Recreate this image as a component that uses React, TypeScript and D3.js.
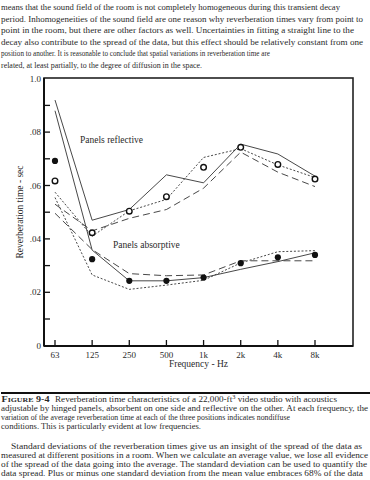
import React from 'react';
import * as d3 from 'd3';

// frequency bands (x categories)
const freqs = ['63', '125', '250', '500', '1k', '2k', '4k', '8k'];
const yTickLabels = ['0', '.02', '.04', '.06', '.08', '1.0'];

// panels reflective - three positions + average
const reflSolid = [0.092, 0.047, 0.051, 0.064, 0.061, 0.0755, 0.0718, 0.0635];
const reflLongDash = [0.053, 0.043, 0.0477, 0.051, 0.059, 0.0725, 0.065, 0.0596];
const reflDotted = [0.0575, 0.041, 0.0505, 0.0548, 0.0705, 0.0738, 0.0677, 0.063];
const reflAvg = [0.0617, 0.0423, 0.0504, 0.0558, 0.0668, 0.0743, 0.0679, 0.0624];

// panels absorptive - three positions + average
const absSolid = [0.088, 0.0358, 0.0243, 0.0243, 0.0255, 0.0286, 0.0315, 0.0348];
const absLongDash = [0.0496, 0.036, 0.027, 0.0262, 0.0265, 0.0318, 0.0318, 0.0318];
const absDotted = [0.0555, 0.0265, 0.0211, 0.0227, 0.0245, 0.031, 0.0352, 0.0356];
const absAvg = [0.0692, 0.0324, 0.0243, 0.0243, 0.0255, 0.0309, 0.0331, 0.034];

const topText = [
  ['means that the sound field of the room is not completely homogeneous during this transient decay', 340],
  ['period. Inhomogeneities of the sound field are one reason why reverberation times vary from point to', 363],
  ['point in the room, but there are other factors as well. Uncertainties in fitting a straight line to the', 354],
  ['decay also contribute to the spread of the data, but this effect should be relatively constant from one', 363],
  ['position to another. It is reasonable to conclude that spatial variations in reverberation time are', 270],
  ['related, at least partially, to the degree of diffusion in the space.', 202],
];

const captionText = [
  ['adjustable by hinged panels, absorbent on one side and reflective on the other. At each frequency, the', 368],
  ['variation of the average reverberation time at each of the three positions indicates nondiffuse', 290],
  ['conditions. This is particularly evident at low frequencies.', 201],
];

const bottomText = [
  ['Standard deviations of the reverberation times give us an insight of the spread of the data as', 362, 11],
  ['measured at different positions in a room. When we calculate an average value, we lose all evidence', 368, 1],
  ['of the spread of the data going into the average. The standard deviation can be used to quantify the', 367, 1],
  ['data spread. Plus or minus one standard deviation from the mean value embraces 68% of the data', 363, 1],
];

const serif = '"Liberation Serif", "Times New Roman", serif';
const ink = '#2a2a2a';

export default function App() {
  const x = d3.scalePoint<string>().domain(freqs).range([55, 315]);
  const y = d3.scaleLinear().domain([0, 0.1]).range([345.7, 78.7]);
  const line = d3.line<number>().x((_, i) => x(freqs[i]) as number).y((d) => y(d));

  const frame = { left: 44, right: 353, top: 78, bottom: 346 };

  const series = [
    { d: reflSolid, dash: undefined },
    { d: reflLongDash, dash: '7,4' },
    { d: reflDotted, dash: '2,1.8' },
    { d: absSolid, dash: undefined },
    { d: absLongDash, dash: '7,4' },
    { d: absDotted, dash: '2,1.8' },
  ];

  return (
    <svg width={370} height={480} style={{ position: 'absolute', left: 0, top: 0, background: '#fff' }}
      fontFamily={serif} fill={ink}>
      {topText.map(([t, w], i) => (
        <text key={i} x={1} y={10 + i * 11.5} fontSize={8.6} textLength={(w as number) - 1}
          lengthAdjust="spacingAndGlyphs">{t}</text>
      ))}

      {/* plot frame */}
      <rect x={frame.left} y={frame.top} width={frame.right - frame.left} height={frame.bottom - frame.top}
        fill="none" stroke="#222" strokeWidth={1.6} />
      <line x1={frame.left} x2={frame.left} y1={frame.top} y2={frame.bottom} stroke="#111" strokeWidth={2} />
      <line x1={frame.left} x2={frame.right} y1={frame.bottom} y2={frame.bottom} stroke="#111" strokeWidth={2} />

      {/* y ticks */}
      {d3.range(1, 10).map((k) => (
        <line key={k} x1={frame.left} x2={frame.left + 6} y1={y(k / 100)} y2={y(k / 100)} stroke="#111" strokeWidth={1.3} />
      ))}
      {yTickLabels.map((t, i) => (
        <text key={t} x={41} y={y(i * 0.02) + 3} fontSize={9} textAnchor="end">{t}</text>
      ))}

      {/* x ticks */}
      {freqs.map((f) => (
        <g key={f}>
          <line x1={x(f)} x2={x(f)} y1={frame.bottom} y2={frame.bottom - 6} stroke="#111" strokeWidth={1.3} />
          <text x={x(f)} y={357.5} fontSize={9} textAnchor="middle">{f}</text>
        </g>
      ))}

      <text x={198.5} y={367} fontSize={9.5} textAnchor="middle">Frequency - Hz</text>
      <text transform="translate(23,212) rotate(-90)" fontSize={9.5} textAnchor="middle">Reverberation time - sec</text>

      {series.map((s, i) => (
        <path key={i} d={line(s.d) || ''} fill="none" stroke="#333" strokeWidth={0.9} strokeDasharray={s.dash} />
      ))}

      {reflAvg.map((v, i) => (
        <circle key={'r' + i} cx={x(freqs[i])} cy={y(v)} r={2.8} fill="#fff" stroke="#111" strokeWidth={1.4} />
      ))}
      {absAvg.map((v, i) => (
        <circle key={'a' + i} cx={x(freqs[i])} cy={y(v)} r={3.1} fill="#111" />
      ))}

      <text x={80} y={143} fontSize={9.5}>Panels reflective</text>
      <text x={113} y={248} fontSize={9.5}>Panels absorptive</text>

      {/* caption */}
      <line x1={1} x2={370} y1={393} y2={393} stroke="#111" strokeWidth={2} />
      <text x={1.5} y={402} fontSize={9} fontWeight="bold" textLength={48} lengthAdjust="spacingAndGlyphs">
        F<tspan fontSize={7}>IGURE</tspan> 9-4
      </text>
      <text x={55} y={402} fontSize={8.6} textLength={282} lengthAdjust="spacingAndGlyphs">
        Reverberation time characteristics of a 22,000-ft<tspan fontSize={6} dy={-3}>3</tspan><tspan dy={3}> video studio with acoustics</tspan>
      </text>
      {captionText.map(([t, w], i) => (
        <text key={i} x={1} y={411 + i * 9} fontSize={8.2} textLength={(w as number) - 1}
          lengthAdjust="spacingAndGlyphs">{t}</text>
      ))}

      {bottomText.map(([t, w, x0], i) => (
        <text key={i} x={x0 as number} y={448.5 + i * 9} fontSize={8.2} textLength={(w as number) - (x0 as number)}
          lengthAdjust="spacingAndGlyphs">{t}</text>
      ))}
    </svg>
  );
}
